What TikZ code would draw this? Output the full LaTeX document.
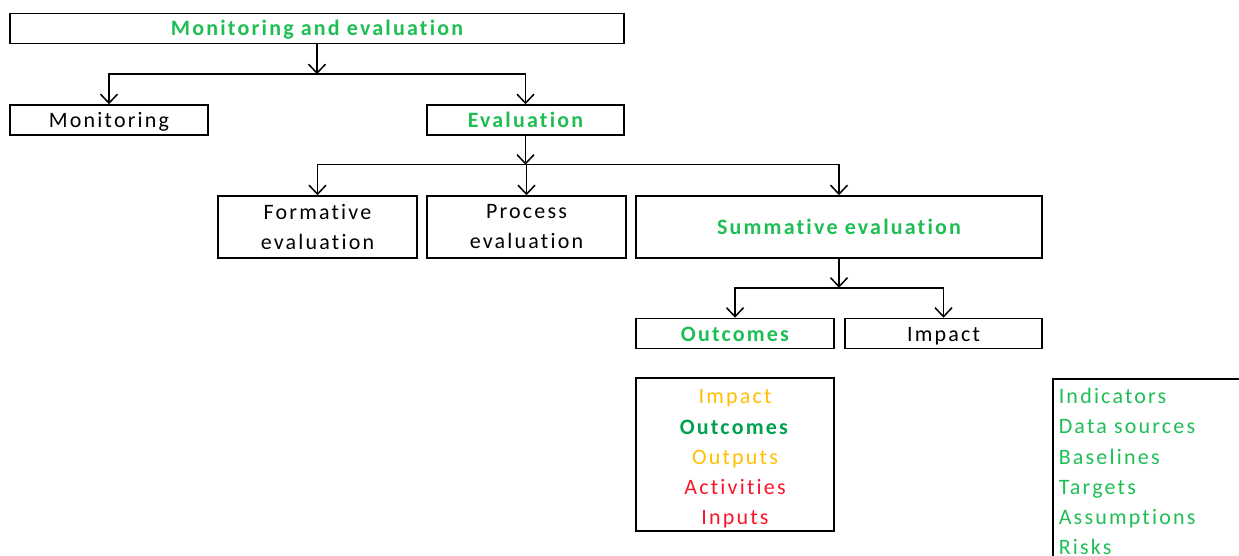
\documentclass[tikz,border=0pt]{standalone}
\usepackage{fontspec}
\setmainfont{Carlito}[LetterSpace=10,Ligatures=NoCommon]
\usetikzlibrary{arrows.meta,positioning}

\definecolor{megreen}{RGB}{30,190,85}
\definecolor{medark}{RGB}{0,160,80}
\definecolor{meyellow}{RGB}{255,192,0}
\definecolor{mered}{RGB}{250,20,40}

\begin{document}
\begin{tikzpicture}[x=1pt,y=-1pt,line width=1.5pt,->,>={Straight Barb[length=9pt,width=17pt]}]
    \tikzstyle{box}=[draw,rectangle,inner sep=0pt,minimum height=30pt,text height=17pt,text depth=2pt,font=\fontsize{22}{30}\selectfont]
    \tikzstyle{tall box}=[box,minimum height=62pt,align=center,text height=,text depth=]
    \tikzstyle{key}=[text=megreen,font=\fontsize{22}{30}\selectfont\bfseries]
    \tikzstyle{item}=[inner sep=0pt,text height=17pt,text depth=2pt,font=\fontsize{22}{30}\selectfont]

    \useasboundingbox (0,0) rectangle (1239,556);

    % Draw the top box and the first level
    \node[box,key,minimum width=614pt] (ME) at (317,28.5) {Monitoring and evaluation};
    \node[box,minimum width=198pt] (Mon) at (109,120) {Monitoring};
    \node[box,key,minimum width=197pt] (Eval) at (525.5,120) {Evaluation};

    % Draw the kinds of evaluation
    \node[tall box,minimum width=199pt] (Form) at (317.5,227) {Formative\\evaluation};
    \node[tall box,minimum width=199pt] (Proc) at (526.5,227) {Process\\evaluation};
    \node[tall box,key,minimum width=406pt] (Summ) at (839,227) {Summative evaluation};

    % Draw the results of summative evaluation
    \node[box,key,minimum width=198pt] (Out) at (735,333.5) {Outcomes};
    \node[box,minimum width=197pt] (Imp) at (943.5,333.5) {Impact};

    % Branch points
    \coordinate[below=30pt of ME.south] (j1);
    \coordinate[below=29pt of Eval.south] (j2);
    \coordinate[below=29pt of Summ.south] (j3);

    % Connect every parent with its children
    \draw (ME.south) -- (j1);
    \foreach \child in {Mon,Eval}
        \draw (j1) -| (\child.north);
    \draw (Eval.south) -- (j2);
    \foreach \child in {Form,Proc,Summ}
        \draw (j2) -| (\child.north);
    \draw (Summ.south) -- (j3);
    \foreach \child in {Out,Imp}
        \draw (j3) -| (\child.north);

    % The results chain
    \node[draw,-,minimum width=198pt,minimum height=153pt,inner sep=0pt] (chain) at (735,454.5) {};
    \foreach \i/\word/\col in {1/Impact/meyellow,2/\textbf{Outcomes}/medark,3/Outputs/meyellow,4/Activities/mered,5/Inputs/mered}
        \node[item,text=\col] (chain-\i) at (735,366+30.25*\i) {\word};

    % The frame columns
    \node[draw,-,anchor=north west,minimum width=200pt,minimum height=200pt,inner sep=0pt] (frame) at (1052,378) {};
    \foreach \i/\word in {1/Indicators,2/Data sources,3/Baselines,4/Targets,5/Assumptions,6/Risks}
        \node[item,text=megreen,anchor=west] (frame-\i) at (1058,366+30.2*\i) {\word};
\end{tikzpicture}
\end{document}
